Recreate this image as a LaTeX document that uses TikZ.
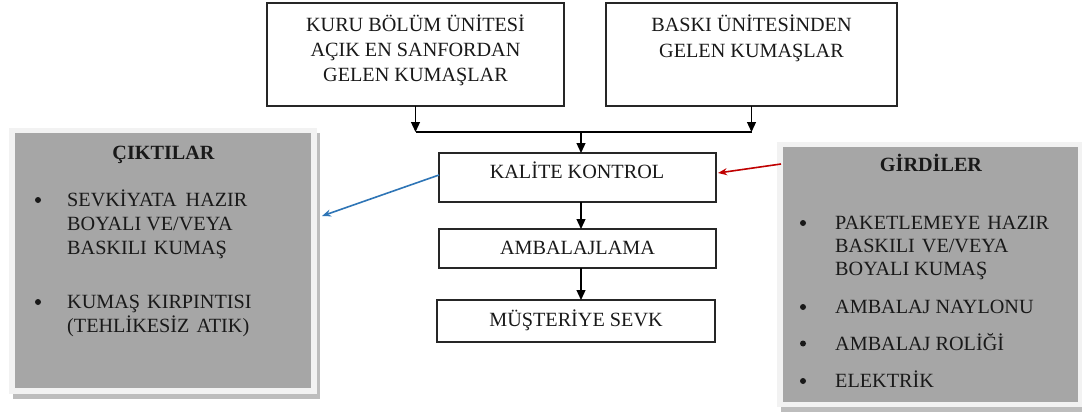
\documentclass[tikz,border=0pt]{standalone}
\usepackage{fontspec}
\setmainfont{Liberation Serif}
\usetikzlibrary{arrows.meta}
\definecolor{greyfill}{HTML}{A6A6A6}
\definecolor{framecol}{HTML}{F2F2F2}
\definecolor{shadowcol}{HTML}{BDBDBD}
\definecolor{bluearr}{HTML}{2E75B6}
\definecolor{redarr}{HTML}{C00000}
\definecolor{boxline}{HTML}{262626}
\begin{document}
\begin{tikzpicture}[x=1pt,y=-1pt,
  box/.style={draw=boxline,line width=1.3pt,fill=white,inner sep=0pt,outer sep=0pt},
  panel/.style={fill=greyfill,inner sep=0pt,outer sep=0pt},
  txt/.style={font=\rmfamily\fontsize{20.2}{24}\selectfont,inner sep=0pt,anchor=base,text=black!90},
  ltxt/.style={txt,anchor=base west},
  btxt/.style={txt,font=\rmfamily\fontsize{20.2}{24}\selectfont\bfseries},
  bul/.style={circle,fill=black!90,inner sep=0pt,minimum size=6pt},
  conn/.style={draw=black,line width=1.3pt},
  arr/.style={conn,-{Triangle[length=10pt,width=9pt]}},
  carr/.style={line width=1.6pt,-{Stealth[length=9pt,width=7pt]}}
]
\useasboundingbox (0,0) rectangle (1082,412);
\fill[white] (0,0) rectangle (1082,412);

% panels (shadow, frame, grey fill)
\fill[shadowcol] (13,133) rectangle (320,399);
\fill[framecol] (9,128) rectangle (317,394);
\node[panel,minimum width=296pt,minimum height=255pt] (out) at (163,260.5) {};
\fill[shadowcol] (781,146) rectangle (1090,412);
\fill[framecol] (777,142) rectangle (1086,407);
\node[panel,minimum width=295pt,minimum height=255pt] (in) at (930.5,274.5) {};

% process boxes
\node[box,minimum width=297pt,minimum height=103pt] (tl) at (415.5,54.5) {};
\node[box,minimum width=291pt,minimum height=103pt] (tr) at (751.5,54.5) {};
\node[box,minimum width=277pt,minimum height=49pt] (kal) at (577.5,177.5) {};
\node[box,minimum width=277pt,minimum height=39pt] (amb) at (577.5,248.5) {};
\node[box,minimum width=278pt,minimum height=42pt] (mus) at (576,321) {};

% texts in boxes
\node[txt] (tl1) at (415.5,31.5) {KURU BÖLÜM ÜNİTESİ};
\node[txt] (tl2) at (415.5,56.5) {AÇIK EN SANFORDAN};
\node[txt] (tl3) at (415.5,81.5) {GELEN KUMAŞLAR};
\node[txt] (tr1) at (751.5,31.5) {BASKI ÜNİTESİNDEN};
\node[txt] (tr2) at (751.5,58) {GELEN KUMAŞLAR};
\node[txt] (kalt) at (577,178.5) {KALİTE KONTROL};
\node[txt] (ambt) at (577.5,254.5) {AMBALAJLAMA};
\node[txt] (must) at (576,326.5) {MÜŞTERİYE SEVK};

% left panel texts
\node[btxt] (outh) at (163.5,159.5) {ÇIKTILAR};
\node[bul] (ob1) at (38,200) {};
\node[ltxt] (o1) at (67,206.5) {SEVKİYATA\hspace{4pt} HAZIR};
\node[ltxt] (o2) at (67,230.5) {BOYALI VE/VEYA};
\node[ltxt] (o3) at (67,254.5) {BASKILI\hspace{2pt} KUMAŞ};
\node[bul] (ob2) at (38,302) {};
\node[ltxt] (o4) at (67,308.5) {KUMAŞ\hspace{2pt} KIRPINTISI};
\node[ltxt] (o5) at (67,332.5) {(TEHLİKESİZ\hspace{2pt} ATIK)};

% right panel texts
\node[btxt] (inh) at (931,171.5) {GİRDİLER};
\node[bul] (ib1) at (803,223) {};
\node[ltxt] (i1) at (835,229.5) {PAKETLEMEYE\hspace{2pt} HAZIR};
\node[ltxt] (i2) at (835,252.5) {BASKILI\hspace{2pt} VE/VEYA};
\node[ltxt] (i3) at (835,275.5) {BOYALI KUMAŞ};
\node[bul] (ib2) at (803,307) {};
\node[ltxt] (i4) at (835,313.5) {AMBALAJ NAYLONU};
\node[bul] (ib3) at (803,343.5) {};
\node[ltxt] (i5) at (835,350) {AMBALAJ ROLİĞİ};
\node[bul] (ib4) at (803,381) {};
\node[ltxt] (i6) at (835,387.5) {ELEKTRİK};

% connectors
\coordinate (jl) at (415.5,132);
\coordinate (jr) at (751.5,132);
\coordinate (jc) at (581,132);
\draw[arr] (tl.south) -- (jl);
\draw[arr] (tr.south) -- (jr);
\draw[conn] (jl) -- (jr);
\draw[arr] (jc) -- (jc |- kal.north);
\draw[arr] (kal.south -| jc) -- (jc |- amb.north);
\draw[arr] (amb.south -| jc) -- (jc |- mus.north);

\coordinate (bs) at (439,175);
\coordinate (be) at (322,216);
\draw[carr,draw=bluearr,color=bluearr] (bs) -- (be);
\coordinate (rs) at (781,164);
\coordinate (re) at (718,173);
\draw[carr,draw=redarr,color=redarr] (rs) -- (re);
\end{tikzpicture}
\end{document}
